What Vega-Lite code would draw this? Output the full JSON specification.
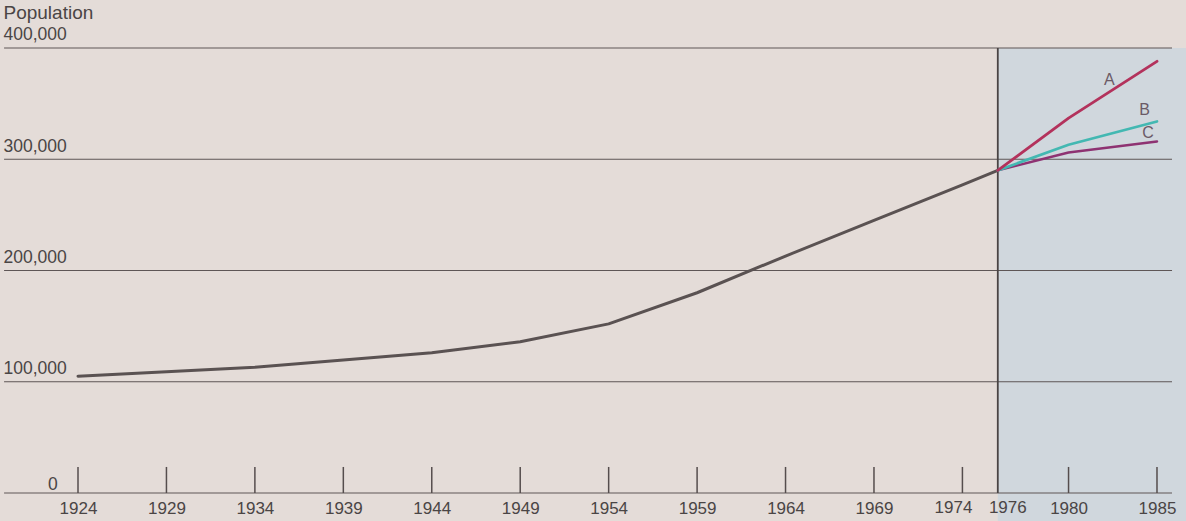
{
  "$schema": "https://vega.github.io/schema/vega-lite/v6.json",
  "width": 1186,
  "height": 493,
  "autosize": {"type": "none"},
  "padding": {"left": 0, "top": 0, "right": 0, "bottom": 28},
  "background": "#e4dcd8",
  "config": {
    "view": {"stroke": null},
    "font": "Liberation Sans",
    "axis": {"labelFont": "Liberation Sans", "titleFont": "Liberation Sans"}
  },
  "datasets": {
    "series": [
      {"year": 1924, "value": 105000, "series": "Actual"},
      {"year": 1929, "value": 109000, "series": "Actual"},
      {"year": 1934, "value": 113000, "series": "Actual"},
      {"year": 1939, "value": 119500, "series": "Actual"},
      {"year": 1944, "value": 126000, "series": "Actual"},
      {"year": 1949, "value": 136000, "series": "Actual"},
      {"year": 1954, "value": 152000, "series": "Actual"},
      {"year": 1959, "value": 180000, "series": "Actual"},
      {"year": 1964, "value": 213000, "series": "Actual"},
      {"year": 1969, "value": 245000, "series": "Actual"},
      {"year": 1974, "value": 277000, "series": "Actual"},
      {"year": 1976, "value": 290000, "series": "Actual"},
      {"year": 1976, "value": 290000, "series": "C"},
      {"year": 1980, "value": 306000, "series": "C"},
      {"year": 1985, "value": 316000, "series": "C"},
      {"year": 1976, "value": 290000, "series": "B"},
      {"year": 1980, "value": 313000, "series": "B"},
      {"year": 1985, "value": 334000, "series": "B"},
      {"year": 1976, "value": 290000, "series": "A"},
      {"year": 1980, "value": 337000, "series": "A"},
      {"year": 1985, "value": 388000, "series": "A"}
    ],
    "grid": [
      {"value": 0}, {"value": 100000}, {"value": 200000}, {"value": 300000}, {"value": 400000}
    ],
    "ticks": [
      {"year": 1924}, {"year": 1929}, {"year": 1934}, {"year": 1939}, {"year": 1944},
      {"year": 1949}, {"year": 1954}, {"year": 1959}, {"year": 1964}, {"year": 1969},
      {"year": 1974}, {"year": 1980}, {"year": 1985}
    ],
    "labels": [
      {"year": 1982.3, "value": 371000, "text": "A"},
      {"year": 1984.3, "value": 344000, "text": "B"},
      {"year": 1984.5, "value": 324000, "text": "C"}
    ],
    "shade": [
      {"year": 1976, "end": 1986.64, "value": 400000, "bottom": -26000}
    ],
    "divider": [
      {"year": 1976, "value": 400000, "bottom": 0}
    ],
    "label1974": [{"year": 1974, "text": "1974"}],
    "label1976": [{"year": 1976, "text": "1976"}],
    "label0": [{"value": 0, "text": "0"}]
  },
  "layer": [
    {
      "data": {"name": "shade"},
      "mark": {"type": "rect", "fill": "#d0d7dd", "clip": false},
      "encoding": {
        "x": {
          "field": "year", "type": "quantitative",
          "scale": {"domain": [1919.59, 1986.64], "nice": false, "zero": false},
          "axis": {
            "title": null,
            "zindex": 1,
            "values": [1924, 1929, 1934, 1939, 1944, 1949, 1954, 1959, 1964, 1969, 1980, 1985],
            "format": "d",
            "ticks": false,
            "domain": false,
            "grid": false,
            "labelFontSize": 17,
            "labelColor": "#4a4545",
            "labelBaseline": "alphabetic",
            "labelPadding": 20,
            "labelOverlap": false,
            "labelFlush": false
          }
        },
        "x2": {"field": "end"},
        "y": {
          "field": "value", "type": "quantitative",
          "scale": {"domain": [0, 443146], "nice": false, "zero": false},
          "axis": {
            "title": "Population",
            "zindex": 1,
            "titleAngle": 0,
            "titleAlign": "left",
            "titleBaseline": "alphabetic",
            "titleX": 3,
            "titleY": 18,
            "titleFontSize": 19,
            "titleFontWeight": "normal",
            "titleColor": "#4a4545",
            "values": [100000, 200000, 300000, 400000],
            "format": ",.0f",
            "ticks": false,
            "domain": false,
            "grid": false,
            "labelAlign": "left",
            "labelBaseline": "alphabetic",
            "labelPadding": -3,
            "labelOffset": -8,
            "labelFontSize": 17.5,
            "labelColor": "#4a4545",
            "labelOverlap": false,
            "labelFlush": false
          }
        },
        "y2": {"field": "bottom"}
      }
    },
    {
      "data": {"name": "grid"},
      "mark": {"type": "rule", "stroke": "#5e5656", "strokeWidth": 1.2},
      "encoding": {
        "x": {"datum": 1919.82, "type": "quantitative"},
        "x2": {"datum": 1985.85},
        "y": {"field": "value", "type": "quantitative"}
      }
    },
    {
      "data": {"name": "ticks"},
      "mark": {"type": "rule", "stroke": "#554d4d", "strokeWidth": 1.5},
      "encoding": {
        "x": {"field": "year", "type": "quantitative"},
        "y": {"datum": 0, "type": "quantitative"},
        "y2": {"datum": 23400}
      }
    },
    {
      "data": {"name": "divider"},
      "mark": {"type": "rule", "stroke": "#4a4444", "strokeWidth": 1.8},
      "encoding": {
        "x": {"field": "year", "type": "quantitative"},
        "y": {"field": "value", "type": "quantitative"},
        "y2": {"field": "bottom"}
      }
    },
    {
      "data": {"name": "series"},
      "mark": {"type": "line", "strokeCap": "round", "strokeJoin": "round"},
      "encoding": {
        "x": {"field": "year", "type": "quantitative"},
        "y": {"field": "value", "type": "quantitative"},
        "detail": {"field": "series"},
        "color": {
          "field": "series", "type": "nominal", "legend": null,
          "scale": {"domain": ["Actual", "A", "B", "C"], "range": ["#5a5252", "#b3325c", "#43b8b2", "#8e3272"]}
        },
        "strokeWidth": {
          "field": "series", "type": "nominal", "legend": null,
          "scale": {"domain": ["Actual", "A", "B", "C"], "range": [3, 2.5, 2.5, 2.5]}
        }
      }
    },
    {
      "data": {"name": "labels"},
      "mark": {"type": "text", "fontSize": 16, "color": "#6b5a66", "align": "center", "baseline": "middle"},
      "encoding": {
        "x": {"field": "year", "type": "quantitative"},
        "y": {"field": "value", "type": "quantitative"},
        "text": {"field": "text"}
      }
    },
    {
      "data": {"name": "label1974"},
      "mark": {"type": "text", "fontSize": 17, "color": "#4a4545", "align": "center", "baseline": "alphabetic", "dx": -9, "dy": 20, "clip": false},
      "encoding": {
        "x": {"field": "year", "type": "quantitative"},
        "y": {"datum": 0, "type": "quantitative"},
        "text": {"field": "text"}
      }
    },
    {
      "data": {"name": "label1976"},
      "mark": {"type": "text", "fontSize": 17, "color": "#4a4545", "align": "center", "baseline": "alphabetic", "dx": 10, "dy": 20, "clip": false},
      "encoding": {
        "x": {"field": "year", "type": "quantitative"},
        "y": {"datum": 0, "type": "quantitative"},
        "text": {"field": "text"}
      }
    },
    {
      "data": {"name": "label0"},
      "mark": {"type": "text", "fontSize": 17.5, "color": "#4a4545", "align": "left", "baseline": "alphabetic", "dx": 48, "dy": -3},
      "encoding": {
        "x": {"datum": 1919.59, "type": "quantitative"},
        "y": {"field": "value", "type": "quantitative"},
        "text": {"field": "text"}
      }
    }
  ]
}
